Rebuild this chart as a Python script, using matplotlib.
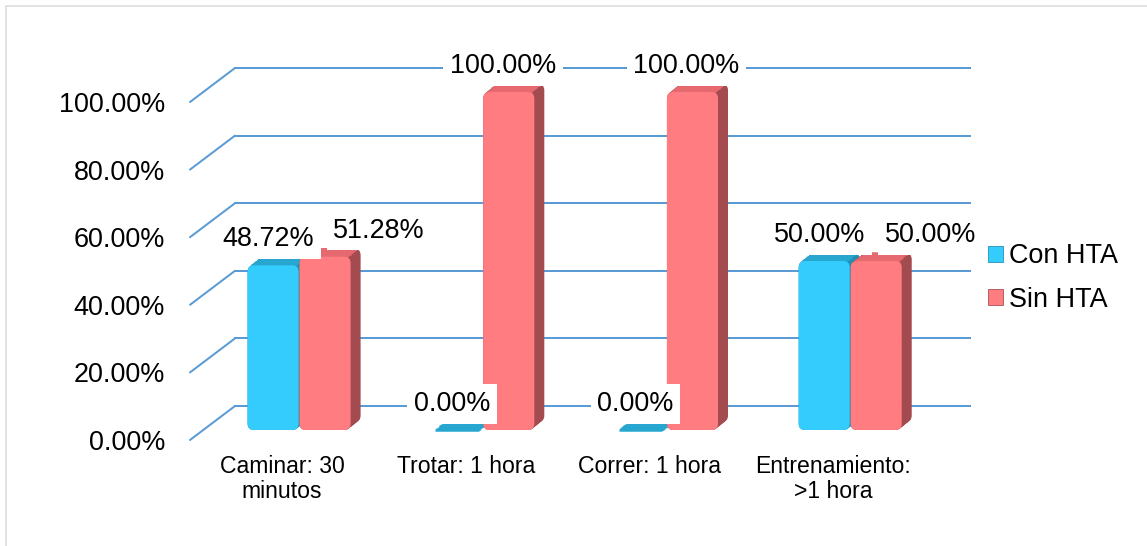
import numpy as np
import matplotlib
matplotlib.use("Agg")
import matplotlib.pyplot as plt
from matplotlib import transforms
from matplotlib.patches import FancyBboxPatch, ConnectionPatch, Patch, Rectangle

plt.rcParams['font.family'] = ['Liberation Sans', 'DejaVu Sans']

# Datos
categorias = ['Caminar: 30\nminutos', 'Trotar: 1 hora', 'Correr: 1 hora', 'Entrenamiento:\n>1 hora']
con_hta = [48.72, 0.00, 0.00, 50.00]
sin_hta = [51.28, 100.00, 100.00, 50.00]
series = ['Con HTA', 'Sin HTA']
marcas_y = [0, 20, 40, 60, 80, 100]

# Colores (frente, lateral, tapa)
col_con = ('#33ccfc', '#1f8fb5', '#27a6d0')
col_sin = ('#ff7c80', '#a34b4f', '#e5696e')
col_grid = '#5b9bd5'

DPI = 72
fig = plt.figure(figsize=(1147 / DPI, 546 / DPI), dpi=DPI)
# plano frontal del gráfico
ax = fig.add_axes([190 / 1147, 106 / 546, 735 / 1147, 338 / 546])
ax.set_xlim(-0.523, 3.478)
ax.set_ylim(0, 100)
for s in ax.spines.values():
    s.set_visible(False)

# desplazamientos (px) hacia el fondo: plano de barras y pared trasera
plano_barras = (13, 10)
pared = (45, 34)
prof = (10, 8)


def desplazado(dx, dy):
    return transforms.offset_copy(ax.transData, fig, x=dx, y=dy, units='dots')


# Líneas de división: pared trasera + diagonal del lado izquierdo
t_pared = desplazado(*pared)
x0, x1 = ax.get_xlim()
for v in marcas_y:
    ax.plot([x0, x1], [v, v], color=col_grid, lw=2, transform=t_pared, zorder=1, clip_on=False)
    con = ConnectionPatch(xyA=(x0, v), coordsA=ax.transData, xyB=(x0, v), coordsB=t_pared,
                          color=col_grid, lw=2, zorder=1, clip_on=False)
    ax.add_artist(con)

ancho = 0.278
sep = 0.1415
# relación de aspecto datos y/x en pantalla para redondear esquinas
aspecto = (100 / 338) / (4.001 / 735)


def barra(xc, v, colores):
    frente, lateral, tapa = colores
    bx, by = plano_barras
    n = 12
    if v > 0:
        for k in np.linspace(0, 1, n):
            p = FancyBboxPatch((xc - ancho / 2, 0), ancho, v,
                               boxstyle='round,pad=0,rounding_size=0.035',
                               mutation_aspect=aspecto, fc=lateral, ec='none',
                               transform=desplazado(bx + k * prof[0], by + k * prof[1]),
                               zorder=3, clip_on=False)
            ax.add_patch(p)
    for k in np.linspace(0, 1, n):
        ax.hlines(v, xc - ancho / 2 + 0.02, xc + ancho / 2 - 0.02, color=tapa, lw=2.5,
                  transform=desplazado(bx + k * prof[0], by + k * prof[1]),
                  zorder=3, clip_on=False)
    if v > 0:
        p = FancyBboxPatch((xc - ancho / 2, 0), ancho, v,
                           boxstyle='round,pad=0,rounding_size=0.035',
                           mutation_aspect=aspecto, fc=frente, ec='none',
                           transform=desplazado(bx, by), zorder=4, clip_on=False)
        ax.add_patch(p)


xs = np.arange(len(categorias))
for i in xs:
    barra(i - sep, con_hta[i], col_con)
    barra(i + sep, sin_hta[i], col_sin)

# Etiquetas de datos
desplaz_sin = [60, 0, 0, 60]
for i in xs:
    ax.annotate(f'{con_hta[i]:.2f}%', xy=(i - sep, con_hta[i]), xytext=(8, 36),
                textcoords='offset points', ha='center', va='center', fontsize=27,
                bbox=dict(boxstyle='square,pad=0.25', fc='white', ec='none'),
                zorder=6, annotation_clip=False)
    ax.annotate(f'{sin_hta[i]:.2f}%', xy=(i + sep, sin_hta[i]), xytext=(7 + desplaz_sin[i], 36),
                textcoords='offset points', ha='center', va='center', fontsize=27,
                bbox=dict(boxstyle='square,pad=0.25', fc='white', ec='none'),
                zorder=6, annotation_clip=False)

# Ejes
ax.set_yticks(marcas_y)
ax.set_yticklabels([f'{v:.2f}%' for v in marcas_y], fontsize=27)
ax.set_xticks(xs)
ax.set_xticklabels(categorias, fontsize=23, linespacing=1.1)
ax.tick_params(axis='y', length=0, pad=25)
ax.tick_params(axis='x', length=0, pad=15)
for lbl in ax.get_xticklabels():
    lbl.set_transform(lbl.get_transform() + transforms.ScaledTranslation(-4 / DPI, 0, fig.dpi_scale_trans))

# Leyenda
manejadores = [Patch(fc=col_con[0], ec=col_con[1], lw=0.8),
               Patch(fc=col_sin[0], ec=col_sin[1], lw=0.8)]
fig.legend(manejadores, series, loc='center left', bbox_to_anchor=(988 / 1147, 268 / 546),
           frameon=False, fontsize=27, handlelength=0.56, handleheight=0.56,
           handletextpad=0.22, labelspacing=0.63, borderpad=0, borderaxespad=0)

# Borde del área del gráfico
fig.patches.append(Rectangle((6 / 1147, -0.05), 1.2, 1.05 - 6 / 546, transform=fig.transFigure,
                             fill=False, ec='#d9d9d9', lw=1.5))

fig.savefig('out.png', dpi=DPI)
